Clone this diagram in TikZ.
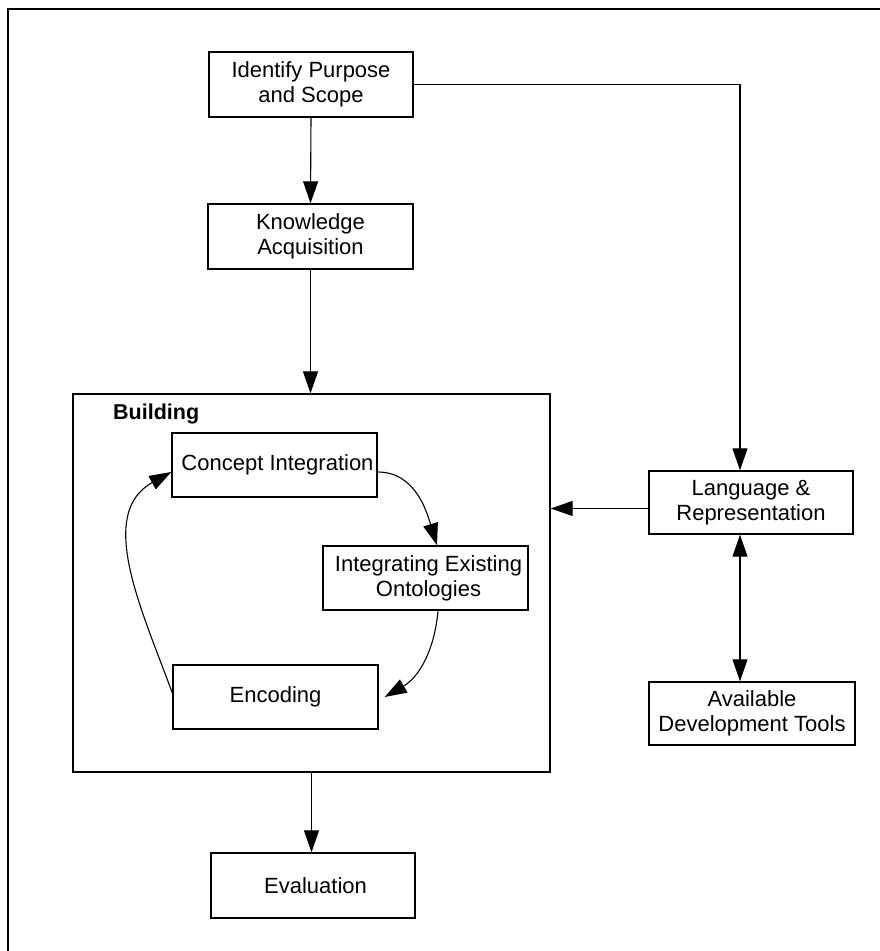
\documentclass[tikz,border=0pt]{standalone}
\usepackage{fontspec}
\setmainfont{Liberation Sans}
\usetikzlibrary{arrows.meta,calc}
\begin{document}
\begin{tikzpicture}[x=1pt,y=1pt,
  box/.style={draw,line width=1.4pt,inner sep=0pt,align=center,
    font=\fontsize{22}{25}\selectfont},
  conn/.style={line width=1.1pt,-{Triangle[length=22pt,width=15pt]}},
  dconn/.style={line width=1.1pt,{Triangle[length=22pt,width=15pt]}-{Triangle[length=22pt,width=15pt]}}]
\useasboundingbox (0,0) rectangle (880,951);
\fill[white] (0,0) rectangle (880,951);
% outer frame
\draw[line width=1.5pt] (8,0) -- (8,942) -- (880,942);
% nodes
\node[box,minimum width=204pt,minimum height=65pt] (ident) at (311,866.5) {Identify Purpose\\and Scope};
\node[box,minimum width=205pt,minimum height=65pt] (know) at (310.5,714.5) {Knowledge\\Acquisition};
\node[draw,line width=1.4pt,minimum width=477pt,minimum height=378pt,inner sep=0pt] (build) at (311.5,368) {};
\node[anchor=base west,inner sep=0pt,font=\fontsize{21.5}{24}\selectfont\bfseries] (blabel) at (113,531) {Building};
\node[box,minimum width=205pt,minimum height=64pt] (concept) at (274.5,486) {\hspace*{6pt}Concept Integration};
\node[box,minimum width=205pt,minimum height=64pt] (integ) at (425.5,373) {\hspace*{6pt}Integrating Existing\\\hspace*{6pt}Ontologies};
\node[box,minimum width=205pt,minimum height=64pt] (enc) at (275.5,254) {Encoding};
\node[box,minimum width=204pt,minimum height=65pt] (eval) at (313,65.5) {\hspace*{5pt}Evaluation};
\node[box,minimum width=204pt,minimum height=63pt] (lang) at (751,448.5) {Language \&\\Representation};
\node[box,minimum width=206pt,minimum height=63pt] (avail) at (752,237.5) {Available\\Development Tools};
% connectors
\coordinate (lt) at ($(lang.north)+(-11,0)$);
\coordinate (lb) at ($(lang.south)+(-11,0)$);
\draw[conn] (ident.south) -- (know.north);
\draw[conn] (know.south) -- (know.south |- build.north);
\draw[conn] (ident.east) -- (lt |- ident.east) -- (lt);
\draw[conn] ([yshift=-6pt]lang.west) -- ([yshift=-6pt]lang.west -| build.east);
\draw[dconn] (lb) -- (lb |- avail.north);
\draw[conn] (build.south) -- (build.south |- eval.north);
\draw[conn] ([yshift=-7pt]concept.east) to[out=0,in=107] ([xshift=11.5pt]integ.north);
\draw[conn] ([xshift=12.5pt]integ.south) to[out=-95,in=30] ([xshift=6pt]enc.east);
\draw[conn] ([yshift=4pt]enc.west) to[out=110,in=209] ([yshift=-7pt]concept.west);
\end{tikzpicture}
\end{document}
